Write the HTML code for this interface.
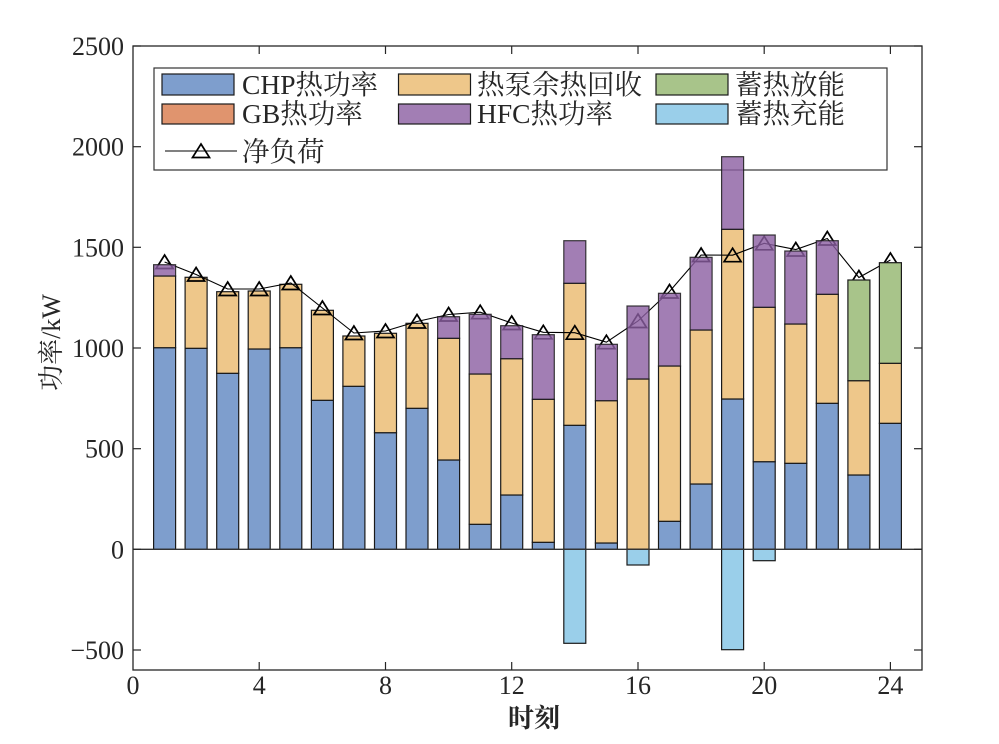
<!DOCTYPE html>
<html>
<head>
<meta charset="utf-8">
<style>
  html,body{margin:0;padding:0;background:#fff;}
  svg{display:block;}
  text{font-family:"Liberation Serif","Noto Serif CJK SC",serif;fill:#262626;}
</style>
</head>
<body>
<svg width="999" height="744" viewBox="0 0 999 744" xmlns="http://www.w3.org/2000/svg">
  <rect x="0" y="0" width="999" height="744" fill="#fff"/>

  <!-- Legend (drawn beneath bars as in reference) -->
  <g>
    <rect x="154" y="68" width="733" height="102" fill="#fff" stroke="#333" stroke-width="1.2"/>
    <rect x="162" y="74" width="72" height="21" fill="#7E9ECD" stroke="#1a1a1a" stroke-width="1.2"/>
    <rect x="162" y="104" width="72" height="20" fill="#E0946E" stroke="#1a1a1a" stroke-width="1.2"/>
    <rect x="398.5" y="74" width="72" height="21" fill="#EEC78A" stroke="#1a1a1a" stroke-width="1.2"/>
    <rect x="398.5" y="104" width="72" height="20" fill="#A27EB4" stroke="#1a1a1a" stroke-width="1.2"/>
    <rect x="656" y="74" width="72" height="21" fill="#A8C48A" stroke="#1a1a1a" stroke-width="1.2"/>
    <rect x="656" y="104" width="72" height="20" fill="#9ACFEA" stroke="#1a1a1a" stroke-width="1.2"/>
    <line x1="165" y1="151" x2="237" y2="151" stroke="#000" stroke-width="1.1"/>
    <path d="M201,144 L209.5,157.5 L192.5,157.5 Z" fill="none" stroke="#000" stroke-width="1.7"/>
    <g font-size="27.5">
      <text x="242" y="94">CHP热功率</text>
      <text x="242" y="123">GB热功率</text>
      <text x="242" y="161">净负荷</text>
      <text x="477" y="94">热泵余热回收</text>
      <text x="477" y="123">HFC热功率</text>
      <text x="735" y="94">蓄热放能</text>
      <text x="735" y="123">蓄热充能</text>
    </g>
  </g>

  <!-- CHP bars -->
  <g fill="#7E9ECD" stroke="#1a1a1a" stroke-width="1.2">
    <rect x="153.6" y="347.7" width="22" height="201.6"/>
    <rect x="185.1" y="348.3" width="22" height="201"/>
    <rect x="216.7" y="373.3" width="22" height="176"/>
    <rect x="248.2" y="349" width="22" height="200.3"/>
    <rect x="279.8" y="347.7" width="22" height="201.6"/>
    <rect x="311.4" y="400.3" width="22" height="149"/>
    <rect x="342.9" y="386.3" width="22" height="163"/>
    <rect x="374.5" y="432.7" width="22" height="116.6"/>
    <rect x="406.0" y="408.3" width="22" height="141"/>
    <rect x="437.6" y="460" width="22" height="89.3"/>
    <rect x="469.2" y="524.3" width="22" height="25"/>
    <rect x="500.7" y="495" width="22" height="54.3"/>
    <rect x="532.3" y="542.3" width="22" height="7"/>
    <rect x="563.8" y="425.3" width="22" height="124"/>
    <rect x="595.4" y="543" width="22" height="6.3"/>
    <rect x="658.5" y="521.3" width="22" height="28"/>
    <rect x="690.1" y="484" width="22" height="65.3"/>
    <rect x="721.6" y="399" width="22" height="150.3"/>
    <rect x="753.2" y="461.7" width="22" height="87.6"/>
    <rect x="784.8" y="463.3" width="22" height="86"/>
    <rect x="816.3" y="403.3" width="22" height="146"/>
    <rect x="847.9" y="475" width="22" height="74.3"/>
    <rect x="879.4" y="423.3" width="22" height="126"/>
  </g>

  <!-- Heat pump bars -->
  <g fill="#EEC78A" stroke="#1a1a1a" stroke-width="1.2">
    <rect x="153.6" y="276" width="22" height="71.7"/>
    <rect x="185.1" y="277.3" width="22" height="71"/>
    <rect x="216.7" y="291.7" width="22" height="81.6"/>
    <rect x="248.2" y="291" width="22" height="58"/>
    <rect x="279.8" y="284.3" width="22" height="63.4"/>
    <rect x="311.4" y="310.3" width="22" height="90"/>
    <rect x="342.9" y="336" width="22" height="50.3"/>
    <rect x="374.5" y="333.3" width="22" height="99.4"/>
    <rect x="406.0" y="323.3" width="22" height="85"/>
    <rect x="437.6" y="338.3" width="22" height="121.7"/>
    <rect x="469.2" y="374" width="22" height="150.3"/>
    <rect x="500.7" y="358.7" width="22" height="136.3"/>
    <rect x="532.3" y="399.3" width="22" height="143"/>
    <rect x="563.8" y="283.3" width="22" height="142"/>
    <rect x="595.4" y="400.7" width="22" height="142.3"/>
    <rect x="627.0" y="379" width="22" height="170.3"/>
    <rect x="658.5" y="366" width="22" height="155.3"/>
    <rect x="690.1" y="330" width="22" height="154"/>
    <rect x="721.6" y="229.3" width="22" height="169.7"/>
    <rect x="753.2" y="307.3" width="22" height="154.4"/>
    <rect x="784.8" y="324" width="22" height="139.3"/>
    <rect x="816.3" y="294.3" width="22" height="109"/>
    <rect x="847.9" y="380.7" width="22" height="94.3"/>
    <rect x="879.4" y="363.3" width="22" height="60"/>
  </g>

  <!-- Net load line -->
  <polyline fill="none" stroke="#000" stroke-width="1.1"
    points="164.6,262 196.1,274.5 227.7,289 259.2,289 290.8,283 322.4,308 353.9,333 385.5,331 417.0,321.5 448.6,314.5 480.2,312.2 511.7,323 543.3,332.3 574.8,332.7 606.4,342.2 638.0,321 669.5,291.5 701.1,255 732.6,255.2 764.2,243.3 795.8,249.5 827.3,238.5 858.9,277.5 890.4,260"/>
  <g fill="none" stroke="#000" stroke-width="1.7">
    <path d="M164.6,255 l8.5,13.5 h-17 Z"/>
    <path d="M196.1,267.5 l8.5,13.5 h-17 Z"/>
    <path d="M227.7,282 l8.5,13.5 h-17 Z"/>
    <path d="M259.2,282 l8.5,13.5 h-17 Z"/>
    <path d="M290.8,276 l8.5,13.5 h-17 Z"/>
    <path d="M322.4,301 l8.5,13.5 h-17 Z"/>
    <path d="M353.9,326 l8.5,13.5 h-17 Z"/>
    <path d="M385.5,324 l8.5,13.5 h-17 Z"/>
    <path d="M417.0,314.5 l8.5,13.5 h-17 Z"/>
    <path d="M448.6,307.5 l8.5,13.5 h-17 Z"/>
    <path d="M480.2,305.2 l8.5,13.5 h-17 Z"/>
    <path d="M511.7,316 l8.5,13.5 h-17 Z"/>
    <path d="M543.3,325.3 l8.5,13.5 h-17 Z"/>
    <path d="M574.8,325.7 l8.5,13.5 h-17 Z"/>
    <path d="M606.4,335.2 l8.5,13.5 h-17 Z"/>
    <path d="M638.0,314 l8.5,13.5 h-17 Z"/>
    <path d="M669.5,284.5 l8.5,13.5 h-17 Z"/>
    <path d="M701.1,248 l8.5,13.5 h-17 Z"/>
    <path d="M732.6,248.2 l8.5,13.5 h-17 Z"/>
    <path d="M764.2,236.3 l8.5,13.5 h-17 Z"/>
    <path d="M795.8,242.5 l8.5,13.5 h-17 Z"/>
    <path d="M827.3,231.5 l8.5,13.5 h-17 Z"/>
    <path d="M858.9,270.5 l8.5,13.5 h-17 Z"/>
    <path d="M890.4,253 l8.5,13.5 h-17 Z"/>
  </g>

  <!-- HFC bars (semi-transparent, over the line) -->
  <g fill="#8B5EA1" fill-opacity="0.8" stroke="#1a1a1a" stroke-opacity="0.85" stroke-width="1.2">
    <rect x="153.6" y="264.7" width="22" height="11.3"/>
    <rect x="437.6" y="316.7" width="22" height="21.6"/>
    <rect x="469.2" y="314.3" width="22" height="59.7"/>
    <rect x="500.7" y="325.7" width="22" height="33"/>
    <rect x="532.3" y="334.7" width="22" height="64.6"/>
    <rect x="563.8" y="240.7" width="22" height="42.6"/>
    <rect x="595.4" y="344.3" width="22" height="56.4"/>
    <rect x="627.0" y="306" width="22" height="73"/>
    <rect x="658.5" y="293.3" width="22" height="72.7"/>
    <rect x="690.1" y="257.3" width="22" height="72.7"/>
    <rect x="721.6" y="156.7" width="22" height="72.6"/>
    <rect x="753.2" y="235" width="22" height="72.3"/>
    <rect x="784.8" y="251" width="22" height="73"/>
    <rect x="816.3" y="240.7" width="22" height="53.6"/>
  </g>

  <!-- Storage discharge -->
  <g fill="#A8C48A" stroke="#1a1a1a" stroke-width="1.2">
    <rect x="847.9" y="280" width="22" height="100.7"/>
    <rect x="879.4" y="262.7" width="22" height="100.6"/>
  </g>

  <!-- Storage charge (negative) -->
  <g fill="#9ACFEA" stroke="#1a1a1a" stroke-width="1.2">
    <rect x="563.8" y="549.3" width="22" height="94"/>
    <rect x="627.0" y="549.3" width="22" height="15.7"/>
    <rect x="721.6" y="549.3" width="22" height="100.4"/>
    <rect x="753.2" y="549.3" width="22" height="11.4"/>
  </g>

  <!-- Zero line -->
  <line x1="133" y1="549.3" x2="922" y2="549.3" stroke="#333" stroke-width="1.3"/>

  <!-- Axes box -->
  <rect x="133" y="46" width="789" height="624" fill="none" stroke="#262626" stroke-width="1.3"/>

  <!-- Ticks -->
  <g stroke="#262626" stroke-width="1.2">
    <!-- left -->
    <line x1="133" y1="46" x2="141" y2="46"/>
    <line x1="133" y1="146.7" x2="141" y2="146.7"/>
    <line x1="133" y1="247.3" x2="141" y2="247.3"/>
    <line x1="133" y1="348" x2="141" y2="348"/>
    <line x1="133" y1="448.7" x2="141" y2="448.7"/>
    <line x1="133" y1="549.3" x2="141" y2="549.3"/>
    <line x1="133" y1="650" x2="141" y2="650"/>
    <!-- right -->
    <line x1="914" y1="46" x2="922" y2="46"/>
    <line x1="914" y1="146.7" x2="922" y2="146.7"/>
    <line x1="914" y1="247.3" x2="922" y2="247.3"/>
    <line x1="914" y1="348" x2="922" y2="348"/>
    <line x1="914" y1="448.7" x2="922" y2="448.7"/>
    <line x1="914" y1="549.3" x2="922" y2="549.3"/>
    <line x1="914" y1="650" x2="922" y2="650"/>
    <!-- bottom -->
    <line x1="259.2" y1="670" x2="259.2" y2="662"/>
    <line x1="385.5" y1="670" x2="385.5" y2="662"/>
    <line x1="511.7" y1="670" x2="511.7" y2="662"/>
    <line x1="638.0" y1="670" x2="638.0" y2="662"/>
    <line x1="764.2" y1="670" x2="764.2" y2="662"/>
    <line x1="890.4" y1="670" x2="890.4" y2="662"/>
    <!-- top -->
    <line x1="259.2" y1="46" x2="259.2" y2="54"/>
    <line x1="385.5" y1="46" x2="385.5" y2="54"/>
    <line x1="511.7" y1="46" x2="511.7" y2="54"/>
    <line x1="638.0" y1="46" x2="638.0" y2="54"/>
    <line x1="764.2" y1="46" x2="764.2" y2="54"/>
    <line x1="890.4" y1="46" x2="890.4" y2="54"/>
  </g>

  <!-- Y tick labels -->
  <g font-size="26" text-anchor="end">
    <text x="124" y="55">2500</text>
    <text x="124" y="155.7">2000</text>
    <text x="124" y="256.3">1500</text>
    <text x="124" y="357">1000</text>
    <text x="124" y="457.7">500</text>
    <text x="124" y="558.3">0</text>
    <text x="124" y="659">−500</text>
  </g>

  <!-- X tick labels -->
  <g font-size="26" text-anchor="middle">
    <text x="133" y="694">0</text>
    <text x="259.2" y="694">4</text>
    <text x="385.5" y="694">8</text>
    <text x="511.7" y="694">12</text>
    <text x="638.0" y="694">16</text>
    <text x="764.2" y="694">20</text>
    <text x="890.4" y="694">24</text>
  </g>

  <!-- Axis labels -->
  <text x="534" y="727" font-size="26" font-weight="bold" text-anchor="middle">时刻</text>
  <text x="60" y="342.5" font-size="26" text-anchor="middle" transform="rotate(-90 60 342.5)">功率/kW</text>
</svg>
</body>
</html>
